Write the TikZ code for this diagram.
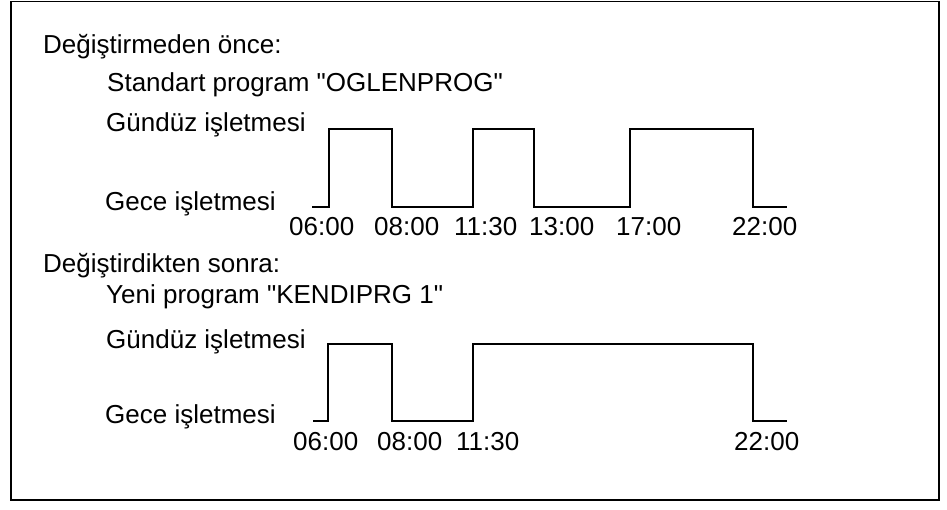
\documentclass[tikz,border=0pt]{standalone}
\usepackage{fontspec}
\newfontfamily\arialfont{Liberation Sans}
\usepackage{tikz}
\tikzset{
  textlabel/.style={anchor=base west,inner sep=0pt,font=\arialfont\fontsize{26}{31}\selectfont},
  timelabel/.style={anchor=base west,inner sep=0pt,font=\arialfont\fontsize{26}{31}\selectfont},
  waveline/.style={line width=2.6pt,line join=miter},
  frameline/.style={line width=1.3pt}
}

\begin{document}
\begin{tikzpicture}[x=1pt,y=-1pt]
  \useasboundingbox (0,0) rectangle (947,509);
  \draw[frameline] (11,1.5) rectangle (939,500);

  % before the change
  \node[textlabel] (beforehead) at (43,53) {Değiştirmeden önce:};
  \node[textlabel] (stdprog) at (107,91) {Standart program "OGLENPROG"};
  \node[textlabel] (dayA) at (106,131) {Gündüz işletmesi};
  \node[textlabel] (nightA) at (105,210) {Gece işletmesi};

  \draw[waveline] (312,207) -- (329,207) -- (329,129) -- (392,129) -- (392,207)
    -- (473,207) -- (473,129) -- (534,129) -- (534,207) -- (630,207)
    -- (630,129) -- (753,129) -- (753,207) -- (787,207);

  \node[timelabel] (tA1) at (289,235) {06:00};
  \node[timelabel] (tA2) at (374,235) {08:00};
  \node[timelabel] (tA3) at (454,235) {11:30};
  \node[timelabel] (tA4) at (529,235) {13:00};
  \node[timelabel] (tA5) at (616,235) {17:00};
  \node[timelabel] (tA6) at (732,235) {22:00};

  % after the change
  \node[textlabel] (afterhead) at (43,272) {Değiştirdikten sonra:};
  \node[textlabel] (newprog) at (106,303) {Yeni program "KENDIPRG 1"};
  \node[textlabel] (dayB) at (106,348) {Gündüz işletmesi};
  \node[textlabel] (nightB) at (105,423) {Gece işletmesi};

  \draw[waveline] (313,421) -- (328,421) -- (328,344) -- (392,344) -- (392,421)
    -- (473,421) -- (473,344) -- (753,344) -- (753,421) -- (787,421);

  \node[timelabel] (tB1) at (293,450) {06:00};
  \node[timelabel] (tB2) at (377,450) {08:00};
  \node[timelabel] (tB3) at (456,450) {11:30};
  \node[timelabel] (tB4) at (734,450) {22:00};
\end{tikzpicture}
\end{document}
